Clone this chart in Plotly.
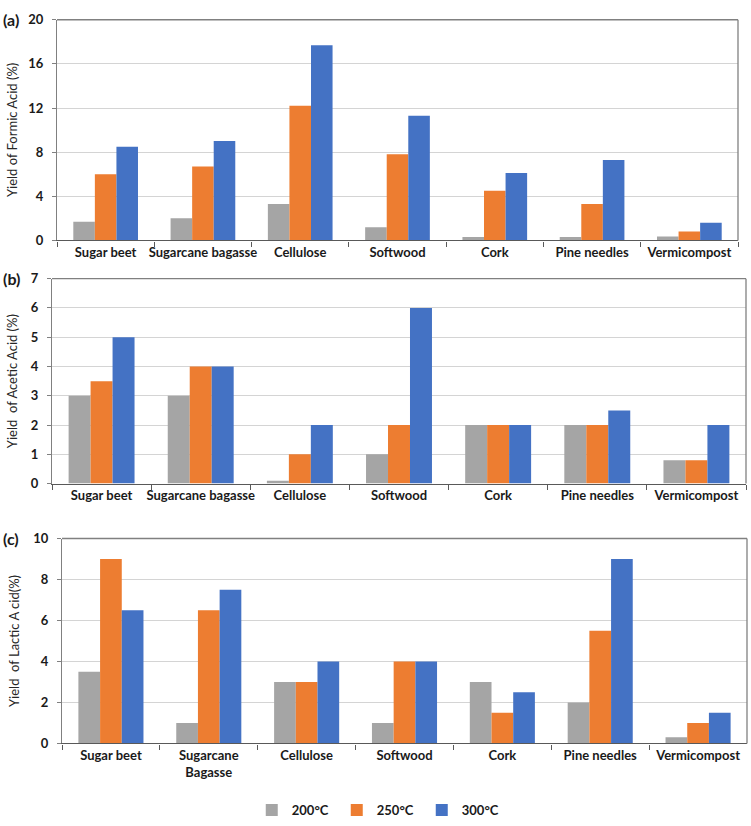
import plotly.graph_objects as go

W, H = 751, 826

categories_ab = ["Sugar beet", "Sugarcane bagasse", "Cellulose", "Softwood", "Cork", "Pine needles", "Vermicompost"]
categories_c = ["Sugar beet", "Sugarcane<br>Bagasse", "Cellulose", "Softwood", "Cork", "Pine needles", "Vermicompost"]
temps = ["200°C", "250°C", "300°C"]
colors = ["#A5A5A5", "#ED7D31", "#4472C4"]

formic_200 = [1.7, 2.0, 3.3, 1.2, 0.3, 0.3, 0.35]
formic_250 = [6.0, 6.7, 12.2, 7.8, 4.5, 3.3, 0.8]
formic_300 = [8.5, 9.0, 17.7, 11.3, 6.1, 7.3, 1.6]

acetic_200 = [3.0, 3.0, 0.1, 1.0, 2.0, 2.0, 0.8]
acetic_250 = [3.5, 4.0, 1.0, 2.0, 2.0, 2.0, 0.8]
acetic_300 = [5.0, 4.0, 2.0, 6.0, 2.0, 2.5, 2.0]

lactic_200 = [3.5, 1.0, 3.0, 1.0, 3.0, 2.0, 0.3]
lactic_250 = [9.0, 6.5, 3.0, 4.0, 1.5, 5.5, 1.0]
lactic_300 = [6.5, 7.5, 4.0, 4.0, 2.5, 9.0, 1.5]

ytitles = ["Yield of Formic Acid (%)", "Yield  of Acetic Acid (%)", "Yield  of Lactic A cid(%)"]
panel_labels = ["(a)", "(b)", "(c)"]
yranges = [(0, 20, 4), (0, 7, 1), (0, 10, 2)]

# plot-area pixel boxes (left, right, top, bottom)
boxes = [(57, 738, 12, 237), (52, 746, 276, 485), (62, 747, 541, 750)]

panels = [
    (categories_ab, [formic_200, formic_250, formic_300]),
    (categories_ab, [acetic_200, acetic_250, acetic_300]),
    (categories_c, [lactic_200, lactic_250, lactic_300]),
]

fig = go.Figure()
FONT = "Lato"
for i, (cats, series) in enumerate(panels):
    ax = "" if i == 0 else str(i + 1)
    for j, vals in enumerate(series):
        fig.add_trace(go.Bar(
            x=cats, y=vals, name=temps[j], marker=dict(color=colors[j], line=dict(width=0)),
            xaxis="x" + ax, yaxis="y" + ax, legendgroup=temps[j], showlegend=(i == 0),
        ))
    l, r, t, b = boxes[i]
    lo, hi, dt = yranges[i]
    xa = dict(domain=[l / W, r / W], anchor="y" + ax, type="category",
              tickson="boundaries", ticks="outside", ticklen=5, tickcolor="#595959",
              showline=True, linecolor="#595959", linewidth=1.3, mirror=False,
              showgrid=False, tickangle=0,
              tickfont=dict(family=FONT, size=13, color="#1a1a1a", weight="bold"),
              fixedrange=True)
    ya = dict(domain=[1 - b / H, 1 - t / H], anchor="x" + ax, range=[lo, hi], dtick=dt,
              tick0=0, ticks="outside", ticklen=4, tickcolor="#808080",
              showline=True, linecolor="#808080", linewidth=1.3, mirror=False,
              showgrid=True, gridcolor="#D4D4D4", gridwidth=1, zeroline=False,
              ticklabelstandoff=6,
              tickfont=dict(family=FONT, size=13, color="#1a1a1a", weight="bold"),
              fixedrange=True)
    fig.update_layout(**{"xaxis" + ax: xa, "yaxis" + ax: ya})
    # box border (top and right)
    fig.add_shape(type="line", xref="x" + ax + " domain", yref="y" + ax + " domain",
                  x0=0, x1=1, y0=1, y1=1, line=dict(color="#808080", width=1.3))
    fig.add_shape(type="line", xref="x" + ax + " domain", yref="y" + ax + " domain",
                  x0=1, x1=1, y0=0, y1=1, line=dict(color="#808080", width=1.3))
    # y-axis title
    fig.add_annotation(x=(12 + (2 if i == 2 else 0)) / W, y=1 - (t + b) / 2 / H, xref="paper", yref="paper",
                       text=ytitles[i], textangle=-90, showarrow=False, xanchor="center", yanchor="middle",
                       font=dict(family=FONT, size=13, color="#262626"))
    # panel label
    fig.add_annotation(x=1 / W, y=1 - t / H, xref="paper", yref="paper", text=panel_labels[i],
                       showarrow=False, xanchor="left", yanchor="middle",
                       font=dict(family=FONT, size=16, color="#1a1a1a", weight="bold"))

fig.update_layout(
    width=W, height=H, margin=dict(l=0, r=0, t=0, b=0),
    paper_bgcolor="white", plot_bgcolor="white",
    barmode="group", bargap=0.335, bargroupgap=0,
    showlegend=True,
    legend=dict(orientation="h", x=0.505, xanchor="center", y=1 - 818 / H, yanchor="middle",
                font=dict(family=FONT, size=13, color="#1a1a1a", weight="bold"),
                itemwidth=30, entrywidth=40, entrywidthmode="pixels",
                tracegroupgap=0, bgcolor="rgba(0,0,0,0)"),
)

fig.write_html("out.html", config={"displayModeBar": False},
               post_script="document.body.style.margin='0';document.body.style.overflow='hidden';")
